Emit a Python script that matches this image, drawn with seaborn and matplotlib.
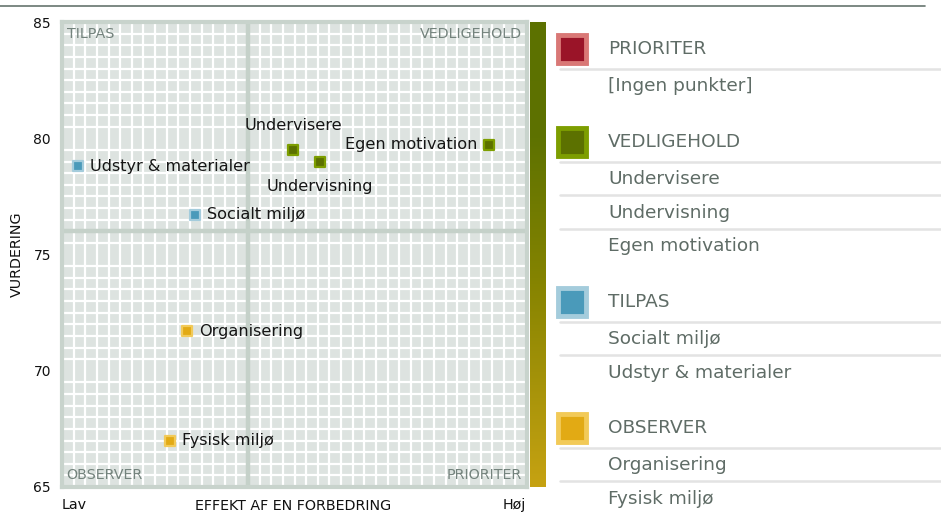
import numpy as np
import pandas as pd
import matplotlib
matplotlib.use("Agg")
import matplotlib.pyplot as plt
from matplotlib.colors import LinearSegmentedColormap
from matplotlib.patches import Rectangle
from matplotlib.lines import Line2D
import seaborn as sns

# ---- data ----
items = ["Undervisere", "Undervisning", "Egen motivation",
         "Socialt miljø", "Udstyr & materialer",
         "Organisering", "Fysisk miljø"]
effekt = [49.7, 55.5, 91.8, 28.6, 3.4, 26.9, 23.2]
vurdering = [79.5, 79.0, 79.7, 76.7, 78.8, 71.7, 67.0]
groups = ["VEDLIGEHOLD", "VEDLIGEHOLD", "VEDLIGEHOLD",
          "TILPAS", "TILPAS", "OBSERVER", "OBSERVER"]
group_order = ["PRIORITER", "VEDLIGEHOLD", "TILPAS", "OBSERVER"]
y_ticks = [65, 70, 75, 80, 85]
quadrant_labels = ["TILPAS", "VEDLIGEHOLD", "OBSERVER", "PRIORITER"]

face = {"PRIORITER": "#9a1428", "VEDLIGEHOLD": "#5c7100",
        "TILPAS": "#4a9aba", "OBSERVER": "#e2aa14"}
edge = {"PRIORITER": "#d97876", "VEDLIGEHOLD": "#7d9e00",
        "TILPAS": "#a4ccdc", "OBSERVER": "#f2ca58"}

df = pd.DataFrame({"item": items, "x": effekt, "y": vurdering, "group": groups})

W, H = 941, 512
fig = plt.figure(figsize=(W / 100, H / 100), dpi=100)
sns.set_style("white")
plt.rcParams["font.family"] = ["DejaVu Sans"]

L, R, T, B = 62, 527, 22, 487
ax = fig.add_axes([L / W, 1 - B / H, (R - L) / W, (B - T) / H])
ax.set_facecolor("#dde3e0")
ax.set_xlim(0, 100)
ax.set_ylim(65, 85)
ax.set_xticks(np.arange(0, 100.1, 2.5), minor=True)
ax.set_yticks(np.arange(65, 85.1, 0.5), minor=True)
ax.grid(which="minor", color="white", lw=1.6)
ax.set_axisbelow(True)
ax.axvline(40, color="#c5d1c9", lw=3.2, zorder=1)
ax.axhline(76, color="#c5d1c9", lw=3.2, zorder=1)
for s in ax.spines.values():
    s.set_color("#c8d3cc")
    s.set_linewidth(3)

for g in group_order:
    sub = df[df.group == g]
    if len(sub):
        sns.scatterplot(data=sub, x="x", y="y", marker="s", s=62,
                        color=face[g], edgecolor=edge[g], linewidth=1.6,
                        ax=ax, zorder=3, legend=False)

offsets = {"Undervisere": (0, 24, "center"), "Undervisning": (0, -25, "center"),
           "Egen motivation": (-11, 1, "right")}
for _, r in df.iterrows():
    dx, dy, ha = offsets.get(r["item"], (12, 0, "left"))
    ax.annotate(r["item"], (r["x"], r["y"]), xytext=(dx, dy),
                textcoords="offset pixels", ha=ha, va="center",
                fontsize=11.6, color="#151515", zorder=4)

ax.set_yticks(y_ticks)
ax.set_yticklabels([str(v) for v in y_ticks], fontsize=10, color="#111111")
ax.tick_params(axis="y", length=0, pad=8)
ax.set_xticks([])
ax.set_xlabel("")
ax.set_ylabel("")

qc = "#74837d"
qs = 10.3
ax.text(0.01, 0.99, quadrant_labels[0], transform=ax.transAxes, ha="left", va="top", fontsize=qs, color=qc)
ax.text(0.99, 0.99, quadrant_labels[1], transform=ax.transAxes, ha="right", va="top", fontsize=qs, color=qc)
ax.text(0.01, 0.01, quadrant_labels[2], transform=ax.transAxes, ha="left", va="bottom", fontsize=qs, color=qc)
ax.text(0.99, 0.01, quadrant_labels[3], transform=ax.transAxes, ha="right", va="bottom", fontsize=qs, color=qc)

fig.text(17 / W, 1 - 254 / H, "VURDERING", rotation=90, ha="center", va="center", fontsize=10.3, color="#111111")
fig.text(293 / W, 1 - 510 / H, "EFFEKT AF EN FORBEDRING", ha="center", va="baseline", fontsize=10.3, color="#111111")
fig.text(62 / W, 1 - 505 / H, "Lav", ha="left", va="center", fontsize=10.3, color="#111111")
fig.text(526 / W, 1 - 505 / H, "Høj", ha="right", va="center", fontsize=10.3, color="#111111")

# colour bar
cax = fig.add_axes([530 / W, 1 - B / H, 16 / W, (B - T) / H])
cmap = LinearSegmentedColormap.from_list("g", [(0, "#5c7100"), (0.25, "#5e7200"), (0.55, "#848300"), (1, "#c6a212")])
cax.imshow(np.linspace(0, 1, 256)[:, None], aspect="auto", cmap=cmap)
cax.axis("off")

# top rule
fig.add_artist(Line2D([0, 925 / W], [1 - 6 / H, 1 - 6 / H], color="#66746e", lw=1.2))

# legend
tc = "#5f6c66"
lc = "#e3e3e3"
ls = 13.3
rows = {"PRIORITER": 49, "VEDLIGEHOLD": 142, "TILPAS": 302, "OBSERVER": 428}
for g in group_order:
    yy = rows[g]
    fig.add_artist(Rectangle((558 / W, 1 - (yy + 14) / H), 28 / W, 28 / H,
                             facecolor=face[g], edgecolor=edge[g], lw=3.5))
    fig.text(608 / W, 1 - yy / H, g, ha="left", va="center", fontsize=ls, color=tc)
    members = [it for it, gg in zip(items, groups) if gg == g]
    if not members:
        members = ["[Ingen punkter]"]
    y = yy + 19.5
    for m in members:
        fig.add_artist(Line2D([560 / W, 1], [1 - y / H, 1 - y / H], color=lc, lw=1.8))
        fig.text(608 / W, 1 - (y + 17.5) / H, m, ha="left", va="center", fontsize=ls, color=tc)
        y += 33.7

fig.savefig("out.png", dpi=100)
